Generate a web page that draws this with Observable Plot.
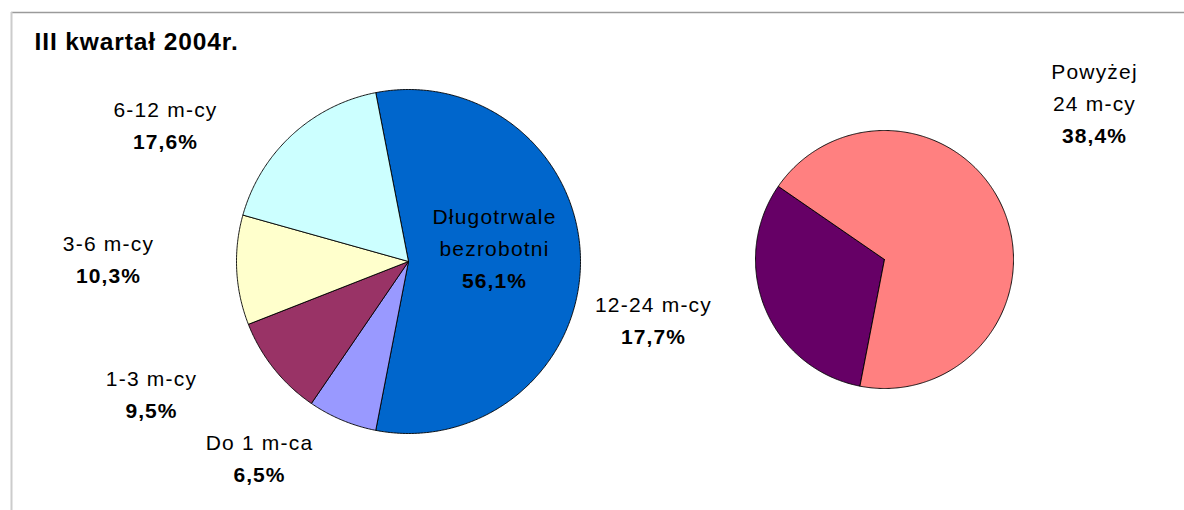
<!DOCTYPE html>
<html>
<head>
<meta charset="utf-8">
<script src="https://cdn.jsdelivr.net/npm/d3@7"></script>
<script src="https://cdn.jsdelivr.net/npm/@observablehq/plot@0.6"></script>
<style>
  html, body { margin: 0; padding: 0; background: #fff; }
  #chart svg { display: block; }
</style>
</head>
<body>
<div id="chart"></div>
<script>
// ---- data ----
const title = "III kwartał 2004r.";
const categories = ["Długotrwale bezrobotni", "Do 1 m-ca", "1-3 m-cy", "3-6 m-cy", "6-12 m-cy"];
const shares = [56.1, 6.5, 9.5, 10.3, 17.6];
const subCategories = ["12-24 m-cy", "Powyżej 24 m-cy"];
const subShares = [17.7, 38.4];

// ---- styles / layout (not data) ----
const mainColors = ["#0066CC", "#9999FF", "#993366", "#FFFFCC", "#CCFFFF"];
const subColors = ["#660066", "#FF8080"];
const mainPie = {cx: 408, cy: 261, r: 172};
const subPie = {cx: 884, cy: 259, r: 129};
// label anchors: centre x, first-line baseline y, line split
const labelLayout = {
  "Długotrwale bezrobotni": {x: 494, y: 223, lines: ["Długotrwale", "bezrobotni"]},
  "Do 1 m-ca": {x: 259, y: 449},
  "1-3 m-cy": {x: 151, y: 385},
  "3-6 m-cy": {x: 108, y: 250},
  "6-12 m-cy": {x: 165, y: 116},
  "12-24 m-cy": {x: 653, y: 311},
  "Powyżej 24 m-cy": {x: 1094, y: 78, lines: ["Powyżej", "24 m-cy"]}
};
const lineGap = 32;
const fontSize = 21;

const deg = Math.PI / 180;
const mainSpan = shares.map(v => v / d3.sum(shares) * 360);
const mainStart = 90 - mainSpan[0] / 2;
const subStart = 90 + mainSpan[0] / 2;

function slices(names, values, colors, start, geo) {
  const total = d3.sum(values);
  let a = start;
  return names.map((n, i) => {
    const span = values[i] / total * 360;
    const s = {name: n, value: values[i], color: colors[i], a0: a, a1: a + span, geo};
    a += span;
    return s;
  });
}
const mainSlices = slices(categories, shares, mainColors, mainStart, mainPie);
const subSlices = slices(subCategories, subShares, subColors, subStart, subPie);

function polygon(s) {
  const {cx, cy, r} = s.geo;
  const pts = [{x: cx, y: cy}];
  const n = Math.max(2, Math.ceil((s.a1 - s.a0) / 0.5));
  for (let k = 0; k <= n; k++) {
    const a = (s.a0 + (s.a1 - s.a0) * k / n) * deg;
    pts.push({x: cx + r * Math.sin(a), y: cy - r * Math.cos(a)});
  }
  pts.push({x: cx, y: cy});
  return pts;
}

const fmt = v => v.toFixed(1).replace(".", ",") + "%";
const nameRows = [], pctRows = [];
for (const s of [...mainSlices, ...subSlices]) {
  const L = labelLayout[s.name];
  const lines = L.lines || [s.name];
  lines.forEach((t, i) => nameRows.push({x: L.x, y: L.y + i * lineGap - 0.32 * fontSize, t}));
  pctRows.push({x: L.x, y: L.y + lines.length * lineGap - 0.32 * fontSize, t: fmt(s.value)});
}

const sliceMarks = [...mainSlices, ...subSlices].map(s =>
  Plot.line(polygon(s), {x: "x", y: "y", fill: s.color, stroke: "#000", strokeWidth: 0.9, strokeLinejoin: "round"})
);

const chart = Plot.plot({
  width: 1184,
  height: 510,
  margin: 0,
  x: {domain: [0, 1184], range: [0, 1184], axis: null},
  y: {domain: [0, 510], range: [0, 510], axis: null},
  style: {fontFamily: "'Liberation Sans', Arial, Helvetica, sans-serif", background: "#fff"},
  marks: [
    Plot.ruleY([12], {x1: 11, x2: 1184, stroke: "#9a9a9a", strokeWidth: 1.5}),
    Plot.ruleX([11], {y1: 12, y2: 510, stroke: "#cccccc", strokeWidth: 2}),
    ...sliceMarks,
    Plot.text([title], {x: 34, y: 49 - 0.32 * 24.5, text: d => d, textAnchor: "start", fontSize: 24.5, fontWeight: "bold", fill: "#000"}),
    Plot.text(nameRows, {x: "x", y: "y", text: "t", fontSize, fill: "#000"}),
    Plot.text(pctRows, {x: "x", y: "y", text: "t", fontSize: 21, fontWeight: "bold", fill: "#000"})
  ]
});
// letter spacing (style only): title, names, percentages
const textGroups = d3.select(chart).selectAll("g[aria-label='text']").nodes();
const spacings = [0.9, 1.2, 1.1];
textGroups.forEach((g, i) => d3.select(g).selectAll("text").style("letter-spacing", spacings[i] + "px"));
document.getElementById("chart").appendChild(chart);
</script>
</body>
</html>
